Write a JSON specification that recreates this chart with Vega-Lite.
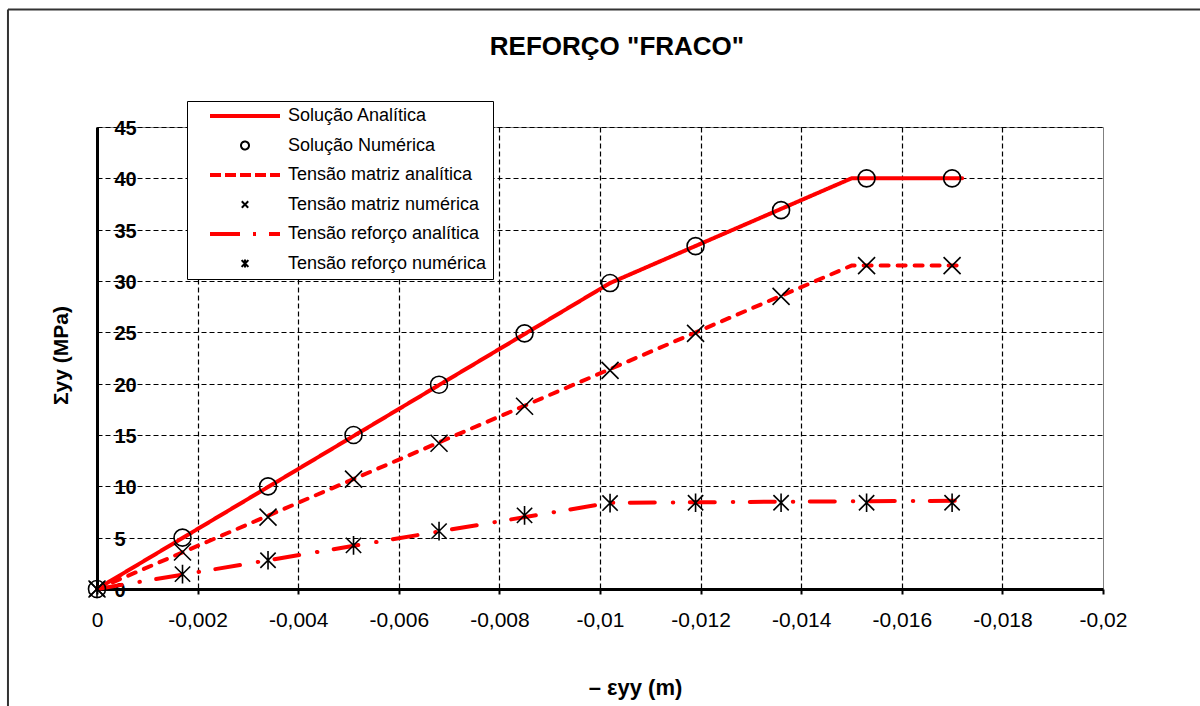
{
  "$schema": "https://vega.github.io/schema/vega-lite/v6.json",
  "width": 1006,
  "height": 462,
  "autosize": {"type": "none"},
  "padding": {"left": 97, "top": 127, "right": 97, "bottom": 117},
  "background": "white",
  "title": {
    "text": "REFORÇO \"FRACO\"",
    "font": "Liberation Sans",
    "fontSize": 26,
    "fontWeight": "bold",
    "color": "black",
    "anchor": "middle",
    "frame": "group",
    "dx": 17,
    "offset": -52
  },
  "config": {
    "view": {"stroke": "#808080", "strokeWidth": 1},
    "font": "Liberation Sans"
  },
  "datasets": {
    "analitica": [
      {"serie": "Solução Analítica", "x": 0, "y": 0},
      {"serie": "Solução Analítica", "x": -0.0102, "y": 29.8},
      {"serie": "Solução Analítica", "x": -0.015, "y": 40},
      {"serie": "Solução Analítica", "x": -0.0172, "y": 40},
      {"serie": "Tensão matriz analítica", "x": 0, "y": 0},
      {"serie": "Tensão matriz analítica", "x": -0.015, "y": 31.5},
      {"serie": "Tensão matriz analítica", "x": -0.0172, "y": 31.5},
      {"serie": "Tensão reforço analítica", "x": 0, "y": 0},
      {"serie": "Tensão reforço analítica", "x": -0.0102, "y": 8.4},
      {"serie": "Tensão reforço analítica", "x": -0.0172, "y": 8.6}
    ],
    "numerica": [
      {"serie": "Solução Numérica", "x": 0, "y": 0},
      {"serie": "Solução Numérica", "x": -0.0017, "y": 5},
      {"serie": "Solução Numérica", "x": -0.0034, "y": 10},
      {"serie": "Solução Numérica", "x": -0.0051, "y": 15},
      {"serie": "Solução Numérica", "x": -0.0068, "y": 19.9},
      {"serie": "Solução Numérica", "x": -0.0085, "y": 24.9},
      {"serie": "Solução Numérica", "x": -0.0102, "y": 29.8},
      {"serie": "Solução Numérica", "x": -0.0119, "y": 33.4},
      {"serie": "Solução Numérica", "x": -0.0136, "y": 36.9},
      {"serie": "Solução Numérica", "x": -0.0153, "y": 40},
      {"serie": "Solução Numérica", "x": -0.017, "y": 40},
      {"serie": "Tensão matriz numérica", "x": 0, "y": 0},
      {"serie": "Tensão matriz numérica", "x": -0.0017, "y": 3.6},
      {"serie": "Tensão matriz numérica", "x": -0.0034, "y": 7.0},
      {"serie": "Tensão matriz numérica", "x": -0.0051, "y": 10.7},
      {"serie": "Tensão matriz numérica", "x": -0.0068, "y": 14.2},
      {"serie": "Tensão matriz numérica", "x": -0.0085, "y": 17.8},
      {"serie": "Tensão matriz numérica", "x": -0.0102, "y": 21.3},
      {"serie": "Tensão matriz numérica", "x": -0.0119, "y": 24.9},
      {"serie": "Tensão matriz numérica", "x": -0.0136, "y": 28.5},
      {"serie": "Tensão matriz numérica", "x": -0.0153, "y": 31.5},
      {"serie": "Tensão matriz numérica", "x": -0.017, "y": 31.5},
      {"serie": "Tensão reforço numérica", "x": 0, "y": 0},
      {"serie": "Tensão reforço numérica", "x": -0.0017, "y": 1.45},
      {"serie": "Tensão reforço numérica", "x": -0.0034, "y": 2.8},
      {"serie": "Tensão reforço numérica", "x": -0.0051, "y": 4.25},
      {"serie": "Tensão reforço numérica", "x": -0.0068, "y": 5.64},
      {"serie": "Tensão reforço numérica", "x": -0.0085, "y": 7.17},
      {"serie": "Tensão reforço numérica", "x": -0.0102, "y": 8.37},
      {"serie": "Tensão reforço numérica", "x": -0.0119, "y": 8.4},
      {"serie": "Tensão reforço numérica", "x": -0.0136, "y": 8.4},
      {"serie": "Tensão reforço numérica", "x": -0.0153, "y": 8.4},
      {"serie": "Tensão reforço numérica", "x": -0.017, "y": 8.4}
    ]
  },
  "layer": [
    {
      "data": {"name": "analitica"},
      "mark": {"type": "line", "strokeCap": "round", "strokeJoin": "round"},
      "encoding": {
        "x": {
          "field": "x", "type": "quantitative",
          "scale": {"domain": [0, -0.02], "nice": false, "zero": false},
          "axis": {
            "values": [0, -0.002, -0.004, -0.006, -0.008, -0.01, -0.012, -0.014, -0.016, -0.018, -0.02],
            "labelExpr": "replace(toString(datum.value), '.', ',')",
            "labelFont": "Liberation Sans", "labelFontSize": 21, "labelColor": "black",
            "labelPadding": 15, "labelFlush": false, "labelOverlap": false,
            "ticks": true, "tickSize": 5, "tickWidth": 2, "tickColor": "black",
            "domainColor": "black", "domainWidth": 3,
            "grid": true, "gridColor": "black", "gridDash": [5, 3], "gridWidth": 1.2,
            "gridOpacity": {"condition": {"test": "datum.value == -0.02", "value": 0}, "value": 1},
            "title": "–  εyy (m)",
            "titleFont": "Liberation Sans", "titleFontSize": 22, "titleFontWeight": "bold", "titleColor": "black",
            "titleX": 538, "titleY": 105, "titleAlign": "center", "titleBaseline": "alphabetic"
          }
        },
        "y": {
          "field": "y", "type": "quantitative",
          "scale": {"domain": [0, 45], "nice": false, "zero": false},
          "axis": {
            "values": [0, 5, 10, 15, 20, 25, 30, 35, 40, 45],
            "format": "d",
            "labelFont": "Liberation Sans", "labelFontSize": 20, "labelFontWeight": "bold", "labelColor": "black",
            "labelAlign": "left", "labelBaseline": "middle", "labelPadding": -17, "labelOffset": 1.5,
            "labelFlush": false, "labelOverlap": false,
            "ticks": true, "tickSize": 0, "tickOpacity": 0,
            "domainColor": "black", "domainWidth": 3,
            "grid": true, "gridColor": "black", "gridDash": [5, 3], "gridWidth": 1.2,
            "title": "Σyy (MPa)",
            "titleFont": "Liberation Sans", "titleFontSize": 21, "titleFontWeight": "bold", "titleColor": "black",
            "titleX": -30, "titleY": 228, "titleAngle": 270, "titleAlign": "center", "titleBaseline": "alphabetic"
          }
        },
        "order": {"field": "x", "sort": "descending"},
        "color": {
          "field": "serie", "type": "nominal",
          "scale": {
            "domain": ["Solução Analítica", "Solução Numérica", "Tensão matriz analítica", "Tensão matriz numérica", "Tensão reforço analítica", "Tensão reforço numérica"],
            "range": ["#ff0000", "#000000", "#ff0000", "#000000", "#ff0000", "#000000"]
          },
          "legend": {
            "orient": "none", "legendX": 90, "legendY": -26, "direction": "vertical", "columns": 1,
            "title": null, "padding": 6, "strokeColor": "black", "fillColor": "white", "zindex": 1,
            "labelFont": "Liberation Sans", "labelFontSize": 18, "labelColor": "black", "labelLimit": 400,
            "labelOffset": 34, "symbolOffset": 43, "rowPadding": 11.5,
            "symbolSize": 64, "symbolFillColor": "transparent", "symbolOpacity": 1,
            "symbolType": {"expr": "(datum.value == 'Solução Numérica' ? 'circle' : datum.value == 'Tensão matriz numérica' ? 'M-0.8,-0.8L0.8,0.8M0.8,-0.8L-0.8,0.8' : datum.value == 'Tensão reforço numérica' ? 'M-0.85,-0.85L0.85,0.85M0.85,-0.85L-0.85,0.85M0,-1L0,1' : 'M-8.75,0L8.75,0')"},
            "symbolStrokeWidth": {"expr": "(indexof(lower(datum.value), 'analítica') >= 0 ? 4 : 2)"},
            "symbolDash": {"expr": "(datum.value == 'Tensão matriz analítica' ? [11, 4] : datum.value == 'Tensão reforço analítica' ? [30, 13, 3, 13] : [1, 0])"}
          }
        },
        "strokeDash": {
          "field": "serie", "type": "nominal",
          "scale": {
            "domain": ["Solução Analítica", "Tensão matriz analítica", "Tensão reforço analítica"],
            "range": [[1, 0], [8, 9], [25, 18, 0.5, 16.5]]
          },
          "legend": null
        },
        "strokeWidth": {"value": 4}
      }
    },
    {
      "data": {"name": "numerica"},
      "mark": {"type": "point", "filled": false, "strokeWidth": 1.6, "opacity": 1, "size": 289},
      "encoding": {
        "x": {"field": "x", "type": "quantitative", "scale": {"domain": [0, -0.02], "nice": false, "zero": false}},
        "y": {"field": "y", "type": "quantitative", "scale": {"domain": [0, 45], "nice": false, "zero": false}},
        "color": {
          "field": "serie", "type": "nominal",
          "scale": {
            "domain": ["Solução Analítica", "Solução Numérica", "Tensão matriz analítica", "Tensão matriz numérica", "Tensão reforço analítica", "Tensão reforço numérica"],
            "range": ["#ff0000", "#000000", "#ff0000", "#000000", "#ff0000", "#000000"]
          },
          "legend": null
        },
        "shape": {
          "field": "serie", "type": "nominal",
          "scale": {
            "domain": ["Solução Numérica", "Tensão matriz numérica", "Tensão reforço numérica"],
            "range": ["circle", "M-1,-1L1,1M1,-1L-1,1", "M-0.9,-0.9L0.9,0.9M0.9,-0.9L-0.9,0.9M0,-1.1L0,1.1"]
          },
          "legend": null
        }
      }
    },
    {
      "data": {"values": [{}]},
      "mark": {"type": "rule", "color": "#333333", "strokeWidth": 2},
      "encoding": {
        "x": {"datum": 0.00177, "type": "quantitative", "scale": {"domain": [0, -0.02], "nice": false, "zero": false}},
        "x2": {"datum": -0.03},
        "y": {"datum": 56.45, "type": "quantitative", "scale": {"domain": [0, 45], "nice": false, "zero": false}}
      }
    },
    {
      "data": {"values": [{}]},
      "mark": {"type": "rule", "color": "#333333", "strokeWidth": 2},
      "encoding": {
        "x": {"datum": 0.00177, "type": "quantitative", "scale": {"domain": [0, -0.02], "nice": false, "zero": false}},
        "y": {"datum": 56.45, "type": "quantitative", "scale": {"domain": [0, 45], "nice": false, "zero": false}},
        "y2": {"datum": -20}
      }
    }
  ]
}
